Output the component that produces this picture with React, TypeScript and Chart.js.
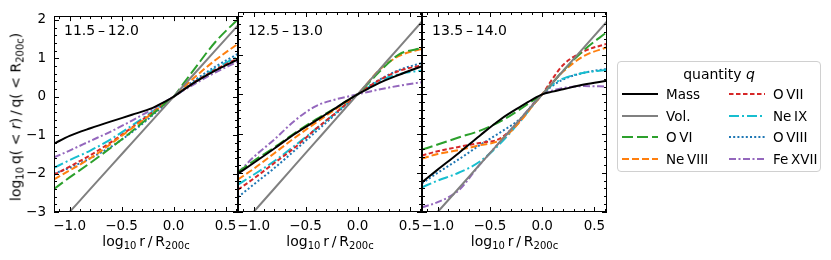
import React, { useEffect, useRef } from 'react';
import { Chart, registerables } from 'chart.js';

Chart.register(...registerables);

// ---------------- data ----------------
const X_GRID = [-1.15, -1.0, -0.8, -0.6, -0.4, -0.2, -0.1, 0, 0.1, 0.2, 0.4, 0.62];
const X_TICKS = [-1.0, -0.5, 0.0, 0.5];
const Y_TICKS = [-3, -2, -1, 0, 1, 2];
const PANEL_LABELS = ['11.5\u2009\u2013\u200912.0', '12.5\u2009\u2013\u200913.0', '13.5\u2009\u2013\u200914.0'];
const SERIES_NAMES = ['Mass', 'Vol.', 'O\u2009VI', 'Ne\u2009VIII', 'O\u2009VII', 'Ne\u2009IX', 'O\u2009VIII', 'Fe\u2009XVII'];

const VOL = [-3.45, -3.0, -2.4, -1.8, -1.2, -0.6, -0.3, 0, 0.3, 0.6, 1.2, 1.86];

// panel 1: 11.5 - 12.0
const MASS_A = [-1.22, -1.02, -0.82, -0.64, -0.47, -0.29, -0.15, 0, 0.19, 0.37, 0.68, 0.97];
const OVI_A = [-2.4, -2.1, -1.72, -1.32, -0.9, -0.45, -0.22, 0, 0.36, 0.72, 1.42, 2.02];
const NEVIII_A = [-2.15, -1.92, -1.6, -1.22, -0.82, -0.42, -0.21, 0, 0.25, 0.5, 0.95, 1.38];
const OVII_A = [-2.03, -1.82, -1.52, -1.18, -0.8, -0.4, -0.2, 0, 0.19, 0.38, 0.7, 1.0];
const NEIX_A = [-1.85, -1.65, -1.4, -1.1, -0.75, -0.38, -0.19, 0, 0.19, 0.38, 0.73, 1.05];
const OVIII_A = [-2.0, -1.85, -1.6, -1.3, -0.92, -0.48, -0.24, 0, 0.21, 0.42, 0.78, 1.12];
const FEXVII_A = [-1.58, -1.4, -1.15, -0.9, -0.62, -0.32, -0.16, 0, 0.17, 0.33, 0.63, 0.92];

// panel 2: 12.5 - 13.0
const MASS_B = [-2.02, -1.75, -1.38, -1.0, -0.67, -0.33, -0.16, 0, 0.14, 0.28, 0.5, 0.72];
const OVI_B = [-1.98, -1.7, -1.35, -0.98, -0.64, -0.33, -0.16, 0, 0.27, 0.55, 1.02, 1.18];
const NEVIII_B = [-2.17, -1.9, -1.5, -1.1, -0.72, -0.36, -0.18, 0, 0.3, 0.6, 0.98, 1.16];
const OVII_B = [-2.43, -2.15, -1.75, -1.35, -0.88, -0.45, -0.22, 0, 0.18, 0.35, 0.6, 0.74];
const NEIX_B = [-2.3, -2.05, -1.7, -1.3, -0.88, -0.45, -0.22, 0, 0.17, 0.33, 0.52, 0.61];
const OVIII_B = [-2.62, -2.3, -1.88, -1.42, -0.95, -0.48, -0.24, 0, 0.19, 0.36, 0.62, 0.8];
const FEXVII_B = [-2.0, -1.6, -1.15, -0.66, -0.3, -0.12, -0.06, 0, 0.06, 0.12, 0.22, 0.31];

// panel 3: 13.5 - 14.0
const MASS_C = [-2.24, -1.92, -1.5, -1.06, -0.64, -0.3, -0.14, 0, 0.07, 0.13, 0.25, 0.35];
const OVI_C = [-1.41, -1.28, -1.1, -0.93, -0.69, -0.36, -0.18, 0, 0.3, 0.6, 1.13, 1.59];
const NEVIII_C = [-1.64, -1.52, -1.42, -1.3, -1.16, -0.66, -0.32, 0, 0.3, 0.58, 0.98, 1.2];
const OVII_C = [-1.56, -1.45, -1.34, -1.24, -1.12, -0.62, -0.3, 0, 0.4, 0.75, 1.1, 1.29];
const NEIX_C = [-2.37, -2.2, -2.0, -1.72, -1.25, -0.65, -0.32, 0, 0.25, 0.4, 0.55, 0.62];
const OVIII_C = [-2.27, -2.0, -1.66, -1.3, -0.97, -0.6, -0.3, 0, 0.22, 0.38, 0.55, 0.65];
const FEXVII_C = [-2.88, -2.75, -2.45, -1.8, -1.2, -0.6, -0.28, 0, 0.1, 0.16, 0.21, 0.2];

const PANEL_DATA = [
  [MASS_A, VOL, OVI_A, NEVIII_A, OVII_A, NEIX_A, OVIII_A, FEXVII_A],
  [MASS_B, VOL, OVI_B, NEVIII_B, OVII_B, NEIX_B, OVIII_B, FEXVII_B],
  [MASS_C, VOL, OVI_C, NEVIII_C, OVII_C, NEIX_C, OVIII_C, FEXVII_C],
];

// ---------------- styles / layout ----------------
const COLORS = ['#000000', '#808080', '#2ca02c', '#ff7f0e', '#d62728', '#17becf', '#1f77b4', '#9467bd'];
const DASHES: number[][] = [[], [], [11, 4], [7, 3], [4.5, 2.5], [10, 3, 2, 3], [2, 2.2], [7, 2.5, 2, 2.5]];
const W = 831;
const H = 260;
const PANEL_L = [54, 238, 422];
const PANEL_R = [238, 422, 607];
const TOP = 12;
const BOTTOM = 212;
const FONT = 'DejaVu Sans';
const FS = 13.5;

const fmt = (d: number) => (v: number) => (v < 0 ? '\u2212' : '') + Math.abs(v).toFixed(d);

const framePlugin = {
  id: 'frameTicks',
  afterDraw(chart: any) {
    const { ctx, chartArea: a, scales } = chart;
    const xs = scales.x;
    const ys = scales.y;
    ctx.save();
    ctx.strokeStyle = '#000';
    ctx.lineWidth = 1;
    ctx.beginPath();
    for (let i = -12; i <= 7; i++) {
      const v = i / 10;
      if (v < xs.min - 1e-9 || v > xs.max + 1e-9) continue;
      const len = i % 5 === 0 ? 5 : 3;
      const p = Math.round(xs.getPixelForValue(v)) + 0.5;
      ctx.moveTo(p, a.top);
      ctx.lineTo(p, a.top + len);
      ctx.moveTo(p, a.bottom);
      ctx.lineTo(p, a.bottom - len);
    }
    for (let i = -15; i <= 11; i++) {
      const v = i / 5;
      if (v < ys.min - 1e-9 || v > ys.max + 1e-9) continue;
      const len = i % 5 === 0 ? 5 : 3;
      const p = Math.round(ys.getPixelForValue(v)) + 0.5;
      ctx.moveTo(a.left, p);
      ctx.lineTo(a.left + len, p);
      ctx.moveTo(a.right, p);
      ctx.lineTo(a.right - len, p);
    }
    ctx.stroke();
    ctx.strokeRect(Math.round(a.left) + 0.5, Math.round(a.top) + 0.5, Math.round(a.right - a.left) - 1, Math.round(a.bottom - a.top) - 1);
    ctx.restore();
  },
};

function makeConfig(i: number): any {
  const datasets = SERIES_NAMES.map((name, k) => ({
    label: name,
    data: X_GRID.map((x, j) => ({ x, y: PANEL_DATA[i][k][j] })),
    borderColor: COLORS[k],
    backgroundColor: COLORS[k],
    borderDash: DASHES[k],
    borderWidth: 2,
    pointRadius: 0,
    fill: false,
    cubicInterpolationMode: 'monotone',
    clip: 0,
    order: k,
  }));
  const tickFont = { family: FONT, size: FS };
  return {
    type: 'line',
    data: { datasets },
    options: {
      animation: false,
      responsive: false,
      events: [],
      layout: {
        padding: {
          left: i === 0 ? PANEL_L[0] - 50 : PANEL_L[i],
          right: W - PANEL_R[i],
          top: TOP,
          bottom: H - BOTTOM - 30,
        },
      },
      plugins: { legend: { display: false }, tooltip: { enabled: false }, title: { display: false } },
      scales: {
        x: {
          type: 'linear',
          min: -1.15,
          max: 0.62,
          afterBuildTicks: (s: any) => {
            s.ticks = X_TICKS.map((v) => ({ value: v }));
          },
          afterFit: (s: any) => {
            s.height = 30;
          },
          grid: { display: false, drawTicks: false },
          border: { display: false },
          ticks: { padding: 6, color: '#000', font: tickFont, autoSkip: false, maxRotation: 0, callback: fmt(1) },
        },
        y: {
          type: 'linear',
          min: -3,
          max: 2.1,
          display: i === 0,
          afterBuildTicks: (s: any) => {
            s.ticks = Y_TICKS.map((v) => ({ value: v }));
          },
          afterFit: (s: any) => {
            s.width = i === 0 ? 50 : 0;
          },
          grid: { display: false, drawTicks: false },
          border: { display: false },
          ticks: { padding: 8, color: '#000', font: tickFont, autoSkip: false, callback: fmt(0) },
        },
      },
    },
    plugins: [framePlugin],
  };
}

const textBase: React.CSSProperties = {
  position: 'absolute',
  fontFamily: FONT,
  fontSize: 14,
  lineHeight: '14px',
  whiteSpace: 'nowrap',
  color: '#000',
};

const subStyle: React.CSSProperties = { fontSize: 10, verticalAlign: '-3px', lineHeight: '10px' };

function Handle({ k }: { k: number }) {
  return (
    <svg width={36} height={10} style={{ display: 'block' }}>
      <line x1={0} y1={5} x2={36} y2={5} stroke={COLORS[k]} strokeWidth={2} strokeDasharray={DASHES[k].length ? DASHES[k].join(' ') : undefined} />
    </svg>
  );
}

export default function App() {
  const r0 = useRef<HTMLCanvasElement>(null);
  const r1 = useRef<HTMLCanvasElement>(null);
  const r2 = useRef<HTMLCanvasElement>(null);
  useEffect(() => {
    const refs = [r0, r1, r2];
    const charts = refs.map((r, i) => new Chart(r.current as HTMLCanvasElement, makeConfig(i)));
    return () => charts.forEach((c) => c.destroy());
  }, []);

  const canvasStyle: React.CSSProperties = { position: 'absolute', left: 0, top: 0, width: W, height: H };
  const legendRows = [0, 1, 2, 3];

  return (
    <div style={{ position: 'fixed', left: 0, top: 0, width: W, height: H, background: '#fff', overflow: 'hidden' }}>
      <canvas ref={r0} width={W} height={H} style={canvasStyle} />
      <canvas ref={r1} width={W} height={H} style={canvasStyle} />
      <canvas ref={r2} width={W} height={H} style={canvasStyle} />

      {PANEL_LABELS.map((t, i) => (
        <div key={'pl' + i} style={{ ...textBase, left: PANEL_L[i] + 10, top: 23 }}>
          {t}
        </div>
      ))}

      {PANEL_L.map((l, i) => (
        <div key={'xt' + i} style={{ ...textBase, left: (l + PANEL_R[i]) / 2, top: 234, transform: 'translateX(-50%)' }}>
          log<sub style={subStyle}>10</sub>{'\u2009'}r{'\u2009'}/{'\u2009'}R<sub style={subStyle}>200c</sub>
        </div>
      ))}

      <div style={{ ...textBase, left: 17, top: 117, transform: 'translate(-50%, -50%) rotate(-90deg)' }}>
        log<sub style={subStyle}>10</sub>{'\u2009'}q( {'<'} <i>r</i>){'\u2009'}/{'\u2009'}q( {'<'} R<sub style={subStyle}>200c</sub>)
      </div>

      <div
        style={{
          position: 'absolute',
          left: 617,
          top: 61,
          width: 204,
          height: 111,
          border: '1px solid #d0d0d0',
          borderRadius: 4,
          boxSizing: 'border-box',
          background: '#fff',
        }}
      >
        <div style={{ ...textBase, left: 0, width: 202, textAlign: 'center', top: 5 }}>
          quantity <i>q</i>
        </div>
        {legendRows.map((row) =>
          [0, 1].map((col) => {
            const k = col * 4 + row;
            const hx = col === 0 ? 4 : 111;
            const ty = 28 + row * 21.5;
            return (
              <React.Fragment key={'lg' + k}>
                <div style={{ position: 'absolute', left: hx, top: ty - 1 }}>
                  <Handle k={k} />
                </div>
                <div style={{ ...textBase, fontSize: FS, left: hx + 44, top: ty - 3 }}>{SERIES_NAMES[k]}</div>
              </React.Fragment>
            );
          })
        )}
      </div>
    </div>
  );
}
